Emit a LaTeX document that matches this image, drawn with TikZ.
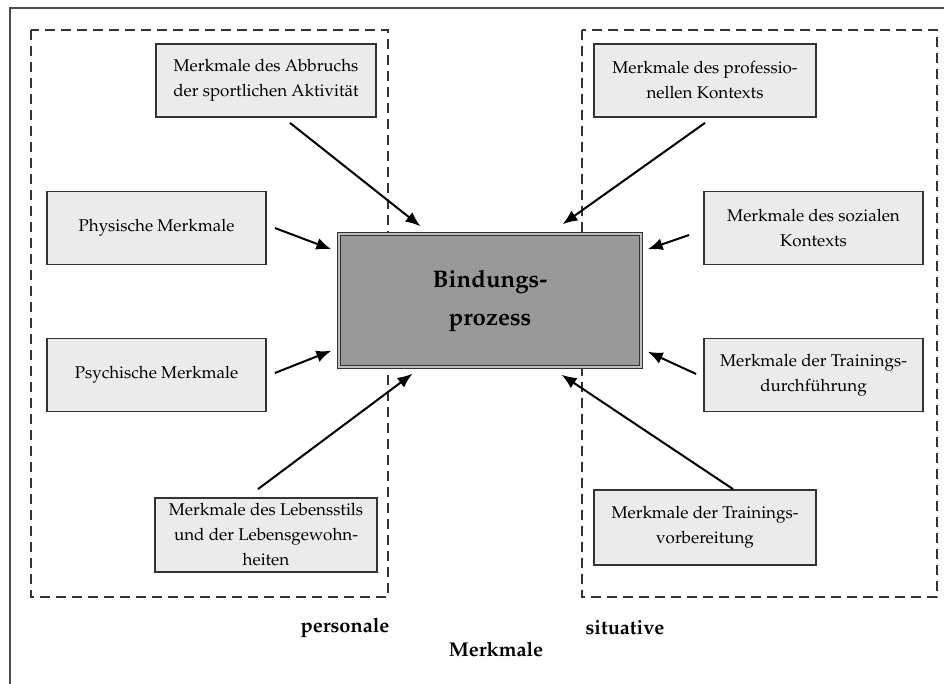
\documentclass[tikz,border=0pt]{standalone}
\usepackage[T1]{fontenc}
\usepackage{mathpazo}
\usepackage{tikz}
\usetikzlibrary{arrows.meta}
\definecolor{boxgray}{HTML}{EBEBEB}
\definecolor{coregray}{HTML}{999999}
\definecolor{linegray}{HTML}{333333}
\tikzset{->,>={Latex[length=15pt,width=12pt]},
  feature/.style={draw=linegray,fill=boxgray,line width=1.8pt,minimum width=219pt,minimum height=73pt,
    align=center,inner sep=2pt,font=\fontsize{17}{25}\selectfont},
  core/.style={draw=linegray,double=lightgray,double distance=1.2pt,line width=1.4pt,fill=coregray,
    minimum width=302pt,minimum height=133pt,align=center,font=\bfseries\fontsize{24}{38}\selectfont},
  group/.style={draw=linegray,dash pattern=on 10pt off 6pt,line width=2.2pt},
  caption/.style={font=\bfseries\fontsize{20}{24}\selectfont}}

\begin{document}
\begin{tikzpicture}[x=1pt,y=-1pt,line width=2pt]
  \useasboundingbox (0,0) rectangle (944,684);
  \clip (0,0) rectangle (944,684);
  \draw[-,draw=gray!60!black,line width=2pt] (10,700) |- (960,8);
  \draw[-,group] (31,30) rectangle (388,597);
  \draw[-,group] (582,30) rectangle (937,597);

  \node[core] (bp) at (490,300.5) {Bindungs-\\prozess};

  \node[feature,minimum width=220pt] (abbr) at (266,80.5) {Merkmale des Abbruchs\\der sportlichen Aktivit\"at};
  \node[feature] (phys) at (156.5,228) {Physische Merkmale};
  \node[feature] (psych) [below of=phys,node distance=147pt] {Psychische Merkmale};
  \node[feature,minimum width=222pt,minimum height=74pt] (leb) at (266,535) {Merkmale des Lebensstils\\und der Lebensgewohn-\\heiten};

  \node[feature,minimum width=222pt] (prof) at (705,80.5) {Merkmale des professio-\\nellen Kontexts};
  \node[feature] (soz) at (813.5,228) {Merkmale des sozialen\\Kontexts};
  \node[feature] (durch) [below of=soz,node distance=147pt] {Merkmale der Trainings-\\durchf\"uhrung};
  \node[feature,minimum width=222pt,minimum height=75pt] (vorb) at (705,527.5) {Merkmale der Trainings-\\vorbereitung};

  \node[caption] (pers) at (345,628) {personale};
  \node[caption] (sit) at (625,628) {situative};
  \node[caption] (mm) at (496,649) {Merkmale};

  \path
  ([xshift=24pt,yshift=-5pt]abbr.south) edge ([xshift=-69.5pt,yshift=7pt]bp.north)
  ([yshift=-5pt]prof.south) edge ([xshift=72.5pt,yshift=9pt]bp.north)
  ([xshift=8pt]phys.east) edge ([xshift=-7pt,yshift=-16pt]bp.north west)
  ([xshift=8pt,yshift=2pt]psych.east) edge ([xshift=-7pt,yshift=17pt]bp.south west)
  ([xshift=-8pt,yshift=8pt]leb.north) edge ([xshift=-77.5pt,yshift=-6pt]bp.south)
  ([xshift=-14pt,yshift=-7pt]soz.west) edge ([xshift=6pt,yshift=-16pt]bp.north east)
  ([xshift=-7pt,yshift=1pt]durch.west) edge ([xshift=6pt,yshift=16pt]bp.south east)
  ([xshift=28pt]vorb.north) edge ([xshift=71.5pt,yshift=-7pt]bp.south)
  ;
\end{tikzpicture}
\end{document}
